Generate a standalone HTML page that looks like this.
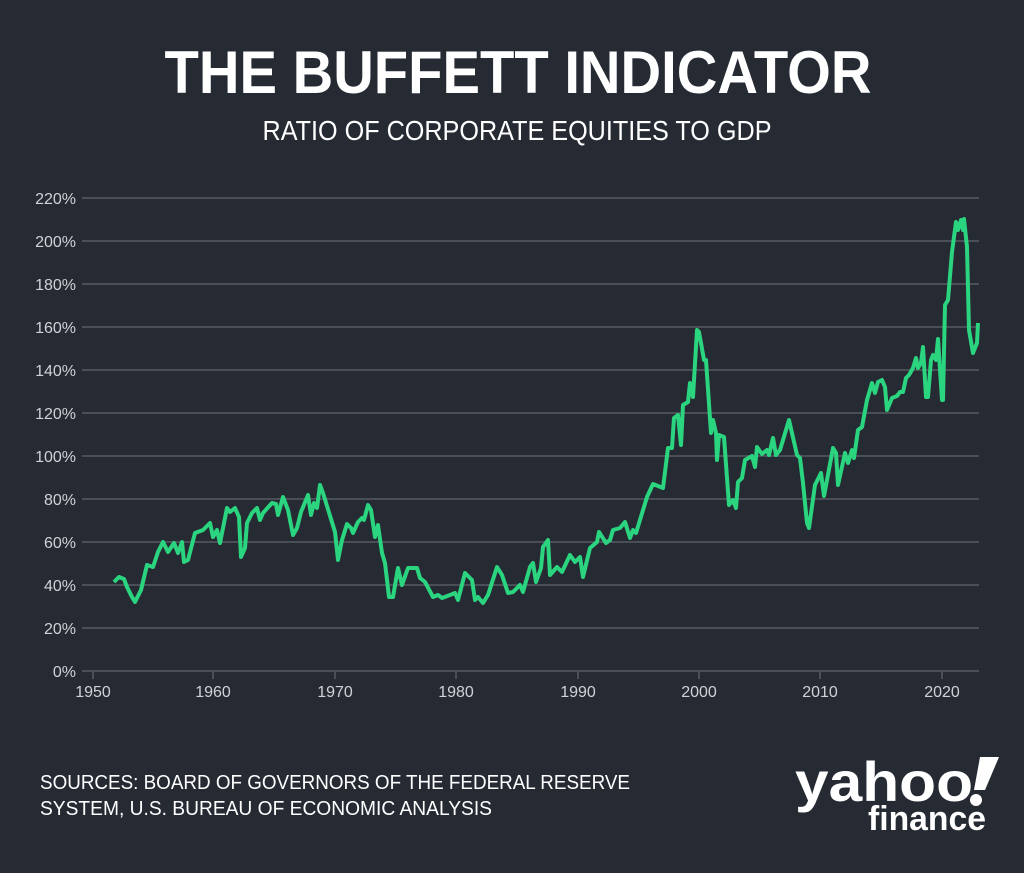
<!DOCTYPE html>
<html><head><meta charset="utf-8"><style>
html,body{margin:0;padding:0;background:#252a33;}
svg{display:block;}
</style></head><body>
<svg width="1024" height="873" viewBox="0 0 1024 873" xmlns="http://www.w3.org/2000/svg" font-family="Liberation Sans, sans-serif">
<rect width="1024" height="873" fill="#252a33"/>
<text x="518" y="93" text-anchor="middle" font-size="60" font-weight="bold" fill="#fff" textLength="707" lengthAdjust="spacingAndGlyphs">THE BUFFETT INDICATOR</text>
<text x="517" y="140" text-anchor="middle" font-size="28" fill="#fff" textLength="509" lengthAdjust="spacingAndGlyphs">RATIO OF CORPORATE EQUITIES TO GDP</text>
<g stroke="#4a4e56" stroke-width="2">
<line x1="82" x2="979" y1="198" y2="198"/><line x1="82" x2="979" y1="241" y2="241"/>
<line x1="82" x2="979" y1="284" y2="284"/><line x1="82" x2="979" y1="327" y2="327"/>
<line x1="82" x2="979" y1="370" y2="370"/><line x1="82" x2="979" y1="413" y2="413"/>
<line x1="82" x2="979" y1="456" y2="456"/><line x1="82" x2="979" y1="499" y2="499"/>
<line x1="82" x2="979" y1="542" y2="542"/><line x1="82" x2="979" y1="585" y2="585"/>
<line x1="82" x2="979" y1="628" y2="628"/><line x1="82" x2="979" y1="671" y2="671"/>
<line x1="93" x2="93" y1="671" y2="679"/><line x1="213" x2="213" y1="671" y2="679"/>
<line x1="335" x2="335" y1="671" y2="679"/><line x1="456" x2="456" y1="671" y2="679"/>
<line x1="578" x2="578" y1="671" y2="679"/><line x1="699" x2="699" y1="671" y2="679"/>
<line x1="820" x2="820" y1="671" y2="679"/><line x1="942" x2="942" y1="671" y2="679"/>
</g>
<g fill="#d0d2d6" font-size="16" text-anchor="end">
<text x="76" y="204">220%</text><text x="76" y="247">200%</text><text x="76" y="290">180%</text>
<text x="76" y="333">160%</text><text x="76" y="376">140%</text><text x="76" y="419">120%</text>
<text x="76" y="462">100%</text><text x="76" y="505">80%</text><text x="76" y="548">60%</text>
<text x="76" y="591">40%</text><text x="76" y="634">20%</text><text x="76" y="677">0%</text>
</g>
<g fill="#d0d2d6" font-size="16" text-anchor="middle">
<text x="93" y="697">1950</text><text x="213" y="697">1960</text><text x="335" y="697">1970</text>
<text x="456" y="697">1980</text><text x="578" y="697">1990</text><text x="699" y="697">2000</text>
<text x="820" y="697">2010</text><text x="942" y="697">2020</text>
</g>
<polyline fill="none" stroke="#2bd47f" stroke-width="4" stroke-linejoin="round" points="114,582 119,577 124,579 127,587 132,597 135,602 141,590 147,565 153,567 158,552 163,542 168,552 174,543 178,553 182,542 184,562 188,560 195,533 203,530 210,523 213,537 217,530 220,543 227,508 230,512 235,508 239,517 241,557 245,548 247,523 252,513 257,508 260,520 263,513 272,503 276,504 278,515 283,497 288,510 293,535 297,528 301,512 308,495 311,515 314,503 317,508 320,485 323,493 335,532 338,560 342,540 347,524 351,528 353,533 358,522 362,518 364,520 368,505 371,510 375,537 378,525 382,553 385,563 389,597 393,597 398,568 402,585 408,568 417,568 420,578 425,582 433,597 438,595 442,598 450,595 455,593 458,600 465,573 472,580 475,600 478,597 483,603 488,595 497,567 502,575 508,593 513,592 520,585 523,592 530,567 533,563 536,582 541,568 543,547 548,540 550,575 557,567 562,572 570,555 575,562 580,557 583,577 590,548 597,542 599,532 606,543 610,540 613,530 620,528 625,522 630,538 633,530 636,533 647,497 653,484 663,488 668,448 672,448 674,418 678,415 681,445 683,405 688,402 690,383 693,397 697,330 699,332 704,360 706,360 711,433 713,420 716,433 717,460 719,435 724,437 729,505 733,500 736,508 738,482 742,478 745,460 752,456 755,467 757,447 762,454 767,450 769,455 773,438 776,455 780,450 789,420 797,455 800,458 803,483 807,523 809,528 815,485 821,473 824,496 833,448 836,453 838,485 845,453 848,463 852,450 854,458 858,430 862,427 867,400 872,383 875,393 878,382 882,380 885,387 887,410 892,398 897,396 900,392 903,392 906,378 909,375 913,368 916,358 918,368 921,363 923,347 926,397 928,397 931,360 933,355 936,360 938,339 942,400 943,400 945,305 948,300 952,252 956,222 958,230 961,220 963,230 964,219 967,247 969,330 973,353 977,343 978,323"/>
<g fill="#fff" font-size="20">
<text x="40" y="789" textLength="590" lengthAdjust="spacingAndGlyphs">SOURCES: BOARD OF GOVERNORS OF THE FEDERAL RESERVE</text>
<text x="40" y="815" textLength="452" lengthAdjust="spacingAndGlyphs">SYSTEM, U.S. BUREAU OF ECONOMIC ANALYSIS</text>
</g>
<g fill="#fff" font-weight="bold">
<text x="795" y="801" font-size="56" textLength="178" lengthAdjust="spacingAndGlyphs">yahoo</text>
<polygon points="980,757 999,757 985,790 974,790"/>
<circle cx="976" cy="800" r="6"/>
<text x="868" y="830" font-size="34" textLength="118" lengthAdjust="spacingAndGlyphs">finance</text>
</g>
</svg>
</body></html>
